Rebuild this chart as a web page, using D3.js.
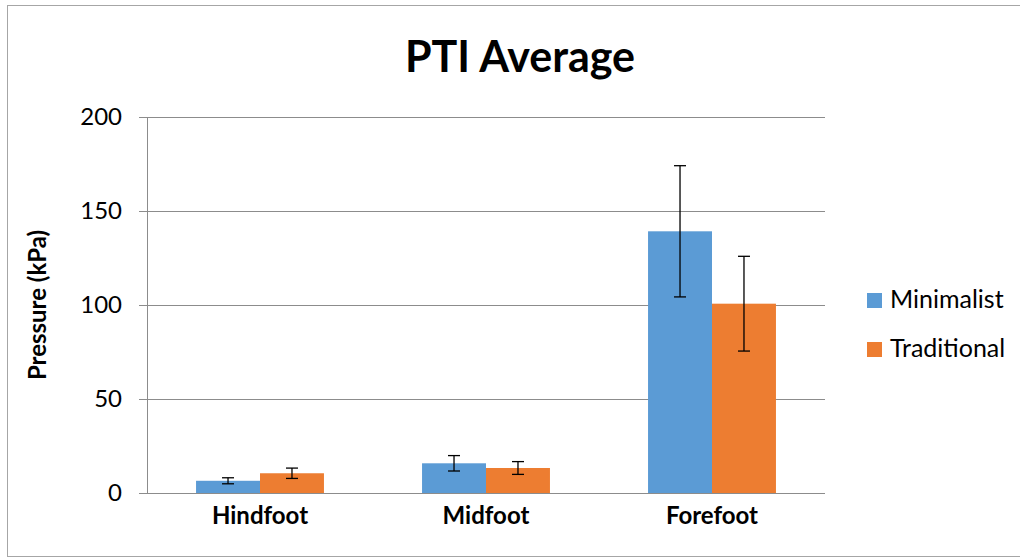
<!DOCTYPE html>
<html>
<head>
<meta charset="utf-8">
<script src="https://cdn.jsdelivr.net/npm/d3@7"></script>
<style>
  body { margin: 0; background: #fff; }
  svg { display: block; font-family: Lato, "Open Sans", sans-serif; }
</style>
</head>
<body>
<svg id="chart" width="1020" height="559"></svg>
<script>
// chart data
var categories = ['Hindfoot', 'Midfoot', 'Forefoot'];
var seriesNames = ['Minimalist', 'Traditional'];
var minimalist = [6.5, 15.8, 139.2];
var traditional = [10.5, 13.3, 100.7];
var minimalistErr = [1.6, 4.1, 34.9];
var traditionalErr = [2.75, 3.4, 25.2];
var yTicks = [0, 50, 100, 150, 200];
var colors = ['#5b9bd5', '#ed7d31'];

var values = [minimalist, traditional];
var errors = [minimalistErr, traditionalErr];

var svg = d3.select('#chart');
var plotLeft = 147, plotRight = 825, plotTop = 117, plotBottom = 493;

// outer frame
svg.append('rect')
    .attr('x', 7.5).attr('y', 5.5)
    .attr('width', 1040).attr('height', 551)
    .attr('fill', 'none')
    .attr('stroke', '#a6a6a6')
    .attr('stroke-width', 1);

var x0 = d3.scaleBand()
    .domain(categories)
    .range([plotLeft, plotRight])
    .paddingInner(0.434)
    .paddingOuter(0.217);

var x1 = d3.scaleBand()
    .domain(seriesNames)
    .range([0, x0.bandwidth()]);

var y = d3.scaleLinear()
    .domain([0, 200])
    .range([plotBottom, plotTop]);

// gridlines
svg.append('g')
    .selectAll('line')
    .data(yTicks)
    .enter()
    .append('line')
    .attr('x1', plotLeft - 8)
    .attr('x2', plotRight)
    .attr('y1', function (d) { return Math.round(y(d)) + 0.5; })
    .attr('y2', function (d) { return Math.round(y(d)) + 0.5; })
    .attr('stroke', '#8c8c8c')
    .attr('stroke-width', 1);

// y axis line
svg.append('line')
    .attr('x1', plotLeft + 0.5).attr('x2', plotLeft + 0.5)
    .attr('y1', plotTop).attr('y2', plotBottom)
    .attr('stroke', '#8c8c8c');

// y tick labels
svg.append('g')
    .selectAll('text')
    .data(yTicks)
    .enter()
    .append('text')
    .attr('x', 122)
    .attr('y', function (d) { return y(d) + 8; })
    .attr('text-anchor', 'end')
    .attr('font-size', 24)
    .attr('fill', '#000')
    .text(function (d) { return d; });

// bars
var groups = svg.append('g')
    .selectAll('g')
    .data(categories)
    .enter()
    .append('g')
    .attr('transform', function (d) { return 'translate(' + x0(d) + ',0)'; });

seriesNames.forEach(function (s, si) {
    groups.append('rect')
        .attr('x', x1(s))
        .attr('width', x1.bandwidth())
        .attr('y', function (d, i) { return y(values[si][i]); })
        .attr('height', function (d, i) { return y(0) - y(values[si][i]); })
        .attr('fill', colors[si]);

    // error bars
    var cx = x1(s) + x1.bandwidth() / 2;
    groups.append('line')
        .attr('x1', cx).attr('x2', cx)
        .attr('y1', function (d, i) { return y(values[si][i] + errors[si][i]); })
        .attr('y2', function (d, i) { return y(values[si][i] - errors[si][i]); })
        .attr('stroke', '#000').attr('stroke-width', 1.3);
    [1, -1].forEach(function (sign) {
        groups.append('line')
            .attr('x1', cx - 6)
            .attr('x2', cx + 6)
            .attr('y1', function (d, i) { return y(values[si][i] + sign * errors[si][i]); })
            .attr('y2', function (d, i) { return y(values[si][i] + sign * errors[si][i]); })
            .attr('stroke', '#000').attr('stroke-width', 1.3);
    });
});

// category labels
svg.append('g')
    .selectAll('text')
    .data(categories)
    .enter()
    .append('text')
    .attr('x', function (d) { return x0(d) + x0.bandwidth() / 2; })
    .attr('y', 524)
    .attr('text-anchor', 'middle')
    .attr('font-size', 24)
    .attr('font-weight', 'bold')
    .text(function (d) { return d; });

// title
svg.append('text')
    .attr('x', 520)
    .attr('y', 72)
    .attr('text-anchor', 'middle')
    .attr('font-size', 43)
    .attr('font-weight', 'bold')
    .text('PTI Average');

// y axis title
svg.append('text')
    .attr('transform', 'translate(46,305) rotate(-90)')
    .attr('text-anchor', 'middle')
    .attr('font-size', 24)
    .attr('font-weight', 'bold')
    .text('Pressure (kPa)');

// legend
var legend = svg.append('g')
    .selectAll('g')
    .data(seriesNames)
    .enter()
    .append('g')
    .attr('transform', function (d, i) { return 'translate(867,' + (293 + i * 49) + ')'; });
legend.append('rect')
    .attr('width', 15).attr('height', 15)
    .attr('fill', function (d, i) { return colors[i]; });
legend.append('text')
    .attr('x', 23)
    .attr('y', 15)
    .attr('font-size', 25)
    .text(function (d) { return d; });
</script>
</body>
</html>
